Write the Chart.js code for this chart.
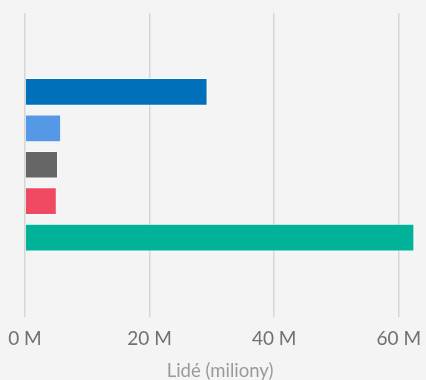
<!DOCTYPE html>
<html>
<head>
<meta charset="utf-8">
<script src="https://cdn.jsdelivr.net/npm/chart.js@4"></script>
<style>
  html, body { margin: 0; padding: 0; background: #f4f4f4; }
  #wrap { width: 426px; height: 380px; }
</style>
</head>
<body>
<div id="wrap"><canvas id="peopleChart" width="426" height="380"></canvas></div>
<script>
// one category, five series (millions of people)
const categories = [''];
const seriesNames = ['Řada 1', 'Řada 2', 'Řada 3', 'Řada 4', 'Řada 5'];
const seriesValues = [29.3, 5.8, 5.3, 5.1, 62.5];
const seriesColors = ['#0070bb', '#5599e6', '#666666', '#f04a62', '#00b398'];
const tickValues = [0, 20, 40, 60];

function showPeopleChart()
{
    const ctx = document.getElementById('peopleChart').getContext('2d');

    const datasets = [];
    for (let i = 0; i < seriesValues.length; i++)
    {
        datasets.push({
            label: seriesNames[i],
            data: [seriesValues[i]],
            backgroundColor: seriesColors[i],
            borderColor: 'rgba(255, 255, 255, 0.6)',
            borderWidth: 1,
            categoryPercentage: 0.6,
            barPercentage: 0.76
        });
    }

    const chart = new Chart(ctx, {
        type: 'bar',
        data: {
            labels: categories,
            datasets: datasets
        },
        options: {
            indexAxis: 'y',
            responsive: false,
            animation: false,
            layout: {
                padding: { top: 13, left: 25, right: 11, bottom: 0 }
            },
            plugins: {
                legend: { display: false },
                tooltip: { enabled: false }
            },
            scales: {
                y: {
                    display: false
                },
                x: {
                    min: 0,
                    max: 62.6,
                    afterBuildTicks: function (axis) {
                        axis.ticks = tickValues.map(v => ({ value: v }));
                    },
                    afterFit: function (axis) {
                        // labels may overhang the plot, as in the original
                        axis.paddingLeft = 0;
                        axis.paddingRight = 0;
                    },
                    border: { display: false },
                    grid: {
                        color: '#d6d6d6',
                        lineWidth: 1.5,
                        drawTicks: false
                    },
                    ticks: {
                        padding: 13,
                        color: '#707070',
                        font: { family: 'Lato', size: 19, lineHeight: 1 },
                        callback: function (value) {
                            return value + ' M';
                        }
                    },
                    title: {
                        display: true,
                        text: 'Lidé (miliony)',
                        color: '#9a9a9a',
                        font: { family: 'Lato', size: 18.5, lineHeight: 1 },
                        padding: { top: 0, bottom: 0 }
                    }
                }
            }
        }
    });
}

showPeopleChart();
</script>
</body>
</html>
